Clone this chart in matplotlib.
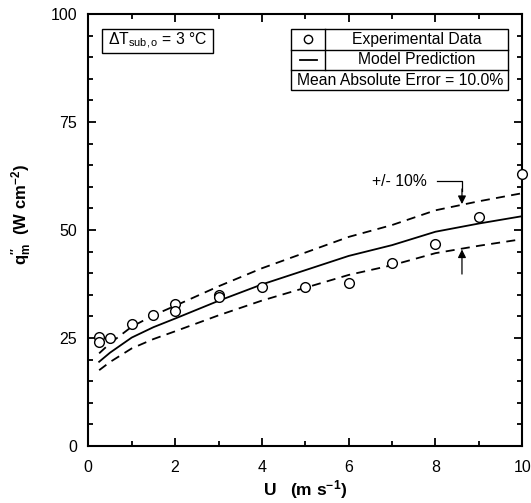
import matplotlib
matplotlib.use("Agg")
import matplotlib.pyplot as plt
from matplotlib.patches import Rectangle
from matplotlib.lines import Line2D
import numpy as np

plt.rcParams['font.family'] = ['Liberation Sans', 'DejaVu Sans']
plt.rcParams['mathtext.fontset'] = 'custom'
plt.rcParams['mathtext.rm'] = 'Liberation Sans'
plt.rcParams['mathtext.it'] = 'Liberation Sans'
plt.rcParams['mathtext.bf'] = 'Liberation Sans:bold'

# Experimental data
exp_u = [0.25, 0.25, 0.5, 1.0, 1.5, 2.0, 2.0, 3.0, 3.0, 4.0, 5.0, 6.0, 7.0, 8.0, 9.0, 10.0]
exp_q = [25.2, 24.0, 25.0, 28.2, 30.3, 32.9, 31.2, 34.9, 34.4, 36.9, 36.7, 37.8, 42.4, 46.8, 53.0, 63.0]

# Model prediction
model_u = [0.25, 0.5, 1.0, 1.5, 2.0, 3.0, 4.0, 5.0, 6.0, 7.0, 8.0, 9.0, 10.0]
model_q = [19.5, 21.6, 25.1, 27.5, 29.5, 33.6, 37.4, 40.7, 44.0, 46.5, 49.6, 51.5, 53.2]
band = 0.10

fig = plt.figure(figsize=(5.31, 5.03), dpi=100)
ax = fig.add_axes([0.1663, 0.1133, 0.8173, 0.8589])

mq = np.array(model_q)
ax.plot(model_u, mq, color='black', lw=1.3, zorder=3)
ax.plot(model_u, mq * (1 + band), color='black', lw=1.3, ls=(0, (5, 3.5)), zorder=3)
ax.plot(model_u, mq * (1 - band), color='black', lw=1.3, ls=(0, (5, 3.5)), zorder=3)
ax.plot(exp_u, exp_q, ls='none', marker='o', ms=7, mfc='white', mec='black', mew=1.0,
        zorder=4, clip_on=False)

ax.set_xlim(0, 10)
ax.set_ylim(0, 100)
ax.set_xticks([0, 2, 4, 6, 8, 10])
ax.set_xticks([1, 3, 5, 7, 9], minor=True)
ax.set_yticks([0, 25, 50, 75, 100])
ax.set_yticks(np.arange(5, 100, 5), minor=True)
ax.tick_params(which='both', direction='in', top=True, right=True, width=1.3,
               labelsize=11.5)
ax.tick_params(axis='x', pad=10)
ax.tick_params(axis='y', pad=8)
ax.tick_params(which='major', length=6)
ax.tick_params(which='minor', length=3.5)
for s in ax.spines.values():
    s.set_linewidth(1.5)

ax.set_xlabel(r"U   (m s$^{\mathbf{-1}}$)", fontsize=12.5, fontweight='bold', va='center')
ax.xaxis.set_label_coords(0.5, -0.1007)
ax.set_ylabel(r"$\mathbf{q}^{\mathbf{\prime\prime}}_{\mathbf{m}}$  (W cm$^{\mathbf{-2}}$)",
              fontsize=12, fontweight='bold', va='center')
ax.yaxis.set_label_coords(-0.153, 0.535)

fs = 11.3
# Delta T box
ax.add_patch(Rectangle((0.032, 0.910), 0.255, 0.055, transform=ax.transAxes,
                       fill=False, lw=1.0, ec='black'))
ax.text(0.1595, 0.9375, r"$\Delta$T$_{\rm sub,o}$ = 3 °C", transform=ax.transAxes,
        ha='center', va='center', fontsize=fs)

# Legend table
L, D, R = 0.4675, 0.546, 0.968
T, r1, r2, B = 0.965, 0.917, 0.870, 0.824
ax.add_patch(Rectangle((L, B), R - L, T - B, transform=ax.transAxes,
                       fill=False, lw=1.0, ec='black'))
for yy in (r1, r2):
    ax.add_line(Line2D([L, R], [yy, yy], transform=ax.transAxes, color='black', lw=1.0))
ax.add_line(Line2D([D, D], [r2, T], transform=ax.transAxes, color='black', lw=1.0))
ax.plot([(L + D) / 2], [(T + r1) / 2], transform=ax.transAxes, marker='o', ms=6,
        mfc='white', mec='black', mew=1.0, ls='none')
ax.add_line(Line2D([L + 0.02, D - 0.02], [(r1 + r2) / 2] * 2, transform=ax.transAxes,
                   color='black', lw=1.3))
ax.text((D + R) / 2, (T + r1) / 2, "Experimental Data", transform=ax.transAxes,
        ha='center', va='center', fontsize=fs)
ax.text((D + R) / 2, (r1 + r2) / 2, "Model Prediction", transform=ax.transAxes,
        ha='center', va='center', fontsize=fs)
ax.text((L + R) / 2, (r2 + B) / 2, "Mean Absolute Error = 10.0%", transform=ax.transAxes,
        ha='center', va='center', fontsize=fs)

# +/- 10% annotation
ax.text(7.17, 61.3, "+/- 10%", ha='center', va='center', fontsize=fs)
ax.plot([8.03, 8.61, 8.61], [61.4, 61.4, 59.0], color='black', lw=0.9)
ax.annotate("", xy=(8.61, 56.0), xytext=(8.61, 59.5),
            arrowprops=dict(arrowstyle='-|>', color='black', lw=0.9,
                            mutation_scale=12, shrinkA=0, shrinkB=0))
ax.annotate("", xy=(8.61, 45.5), xytext=(8.61, 39.8),
            arrowprops=dict(arrowstyle='-|>', color='black', lw=0.9,
                            mutation_scale=12, shrinkA=0, shrinkB=0))

fig.savefig("out.png", dpi=100)
